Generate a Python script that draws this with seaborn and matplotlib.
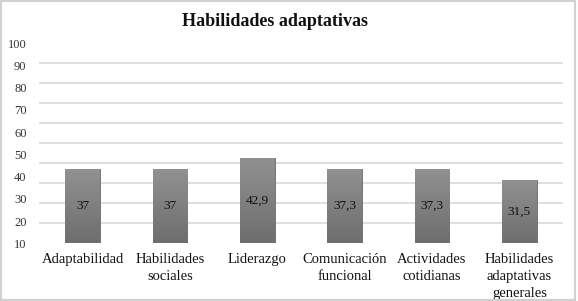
import numpy as np
import pandas as pd
import matplotlib
matplotlib.use("Agg")
import matplotlib.pyplot as plt
import seaborn as sns
from matplotlib.patches import Rectangle

categories = ["Adaptabilidad", "Habilidades\nsociales", "Liderazgo",
              "Comunicación\nfuncional", "Actividades\ncotidianas",
              "Habilidades\nadaptativas\ngenerales"]
values = [37, 37, 42.9, 37.3, 37.3, 31.5]
value_labels = ["37", "37", "42,9", "37,3", "37,3", "31,5"]
ytick_labels = ["10", "20", "30", "40", "50", "60", "70", "80", "90", "100"]
title = "Habilidades adaptativas"

sns.set_theme(style="white")
plt.rcParams["font.family"] = ["Liberation Serif", "DejaVu Serif"]

df = pd.DataFrame({"cat": categories, "val": values})

fig = plt.figure(figsize=(5.78, 3.01), dpi=100)
ax = fig.add_axes([39 / 578, (301 - 243.3) / 301, (563 - 39) / 578, 200 / 301])

sns.barplot(data=df, x="cat", y="val", color="#808080", width=0.40,
            saturation=1, ax=ax, zorder=3)

# gradient fill on bars
grad = np.linspace(0, 1, 100).reshape(-1, 1)
cmap = matplotlib.colors.LinearSegmentedColormap.from_list("g", ["#6e6e6e", "#919191"])
for p in ax.patches:
    x0, y0 = p.get_x(), p.get_y()
    w, h = p.get_width(), p.get_height()
    p.set_edgecolor("#6a6a6a")
    p.set_linewidth(0.6)
    im = ax.imshow(grad, extent=[x0, x0 + w, y0, y0 + h], origin="lower",
                   cmap=cmap, aspect="auto", zorder=3.5, interpolation="bilinear")
    im.set_clip_path(p)

ax.bar_label(ax.containers[0], labels=value_labels, label_type="center",
             fontsize=9.5, color="#111111", zorder=5)
for t in ax.texts:
    t.set_zorder(6)

ax.set_xlim(-0.5, 5.5)
ax.set_ylim(0, 100)

# gridlines every 10
ax.set_yticks(np.arange(0, 101, 10), minor=True)
ax.grid(False)
ax.yaxis.grid(True, which="minor", color="#d9d9d9", linewidth=1.2, zorder=0)
ax.set_axisbelow(True)

ax.set_yticks(np.linspace(0, 100, len(ytick_labels)))
ax.set_yticklabels(ytick_labels, fontsize=9, color="#333333")
ax.tick_params(axis="y", which="both", length=0, pad=9)
ax.tick_params(axis="x", length=0, pad=7, labelsize=10.5, colors="#111111")
for lab in ax.get_xticklabels():
    lab.set_linespacing(1.42)

ax.set_xlabel("")
ax.set_ylabel("")
for s in ax.spines.values():
    s.set_visible(False)

fig.text(275 / 578, 1 - 22 / 301, title, ha="center", va="center",
         fontsize=13, fontweight="bold", color="#111111")

fig.patches.append(Rectangle((0.001, 0.004), 0.994, 0.994, transform=fig.transFigure,
                             fill=False, edgecolor="#d0d0d0", linewidth=1.5))

fig.savefig("out.png", dpi=100)
